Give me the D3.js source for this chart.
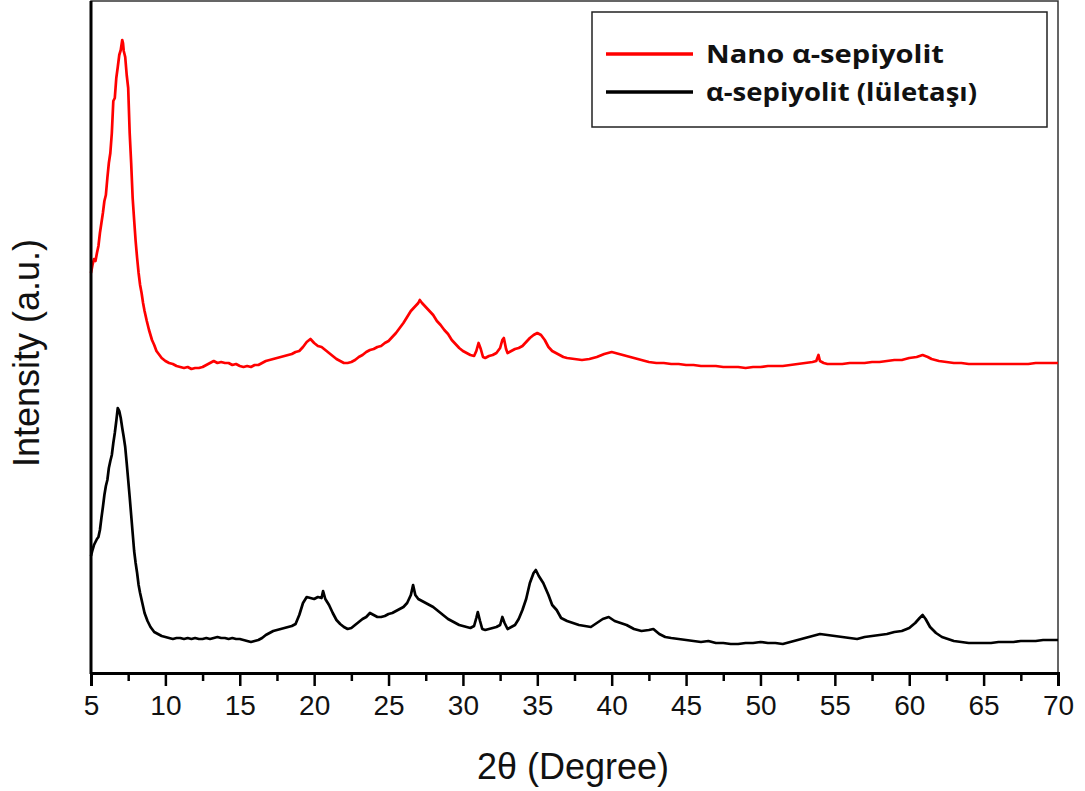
<!DOCTYPE html>
<html>
<head>
<meta charset="utf-8">
<script src="https://cdn.jsdelivr.net/npm/d3@7/dist/d3.min.js"></script>
<style>
  body { margin: 0; background: #fff; }
  svg { display: block; }
</style>
</head>
<body>
<div id="chart"></div>
<script>
// 2-theta positions and intensities (a.u.)
var nanoSep = [
  [5.0, 400], [5.1, 408], [5.2, 414], [5.3, 412], [5.4, 420], [5.5, 427], [5.6, 440], [5.7, 450], [5.8, 460], [5.9, 472],
  [6.0, 478], [6.1, 495], [6.2, 510], [6.3, 520], [6.4, 540], [6.5, 572], [6.6, 575], [6.7, 595], [6.8, 606], [6.9, 618],
  [7.0, 623], [7.1, 633], [7.15, 630], [7.2, 622], [7.3, 616], [7.4, 598], [7.5, 585], [7.6, 540], [7.7, 510], [7.8, 475],
  [7.9, 453], [8.0, 432], [8.1, 415], [8.2, 400], [8.3, 388], [8.4, 380], [8.5, 370], [8.6, 362], [8.75, 352], [8.9, 343],
  [9.1, 333], [9.25, 328], [9.4, 322], [9.6, 318], [9.75, 315], [10.0, 312], [10.25, 310], [10.5, 309], [10.75, 307], [11.0, 306],
  [11.25, 305], [11.5, 306], [11.75, 304], [12.0, 305], [12.25, 305], [12.5, 306], [12.75, 308], [13.0, 310], [13.25, 312], [13.5, 310],
  [13.75, 311], [14.0, 310], [14.25, 310], [14.5, 308], [14.75, 309], [15.0, 307], [15.25, 306], [15.5, 307], [15.75, 306], [16.0, 308],
  [16.25, 308], [16.5, 310], [16.75, 312], [17.0, 313], [17.25, 314], [17.5, 315], [17.75, 316], [18.0, 317], [18.25, 318], [18.5, 319],
  [18.75, 321], [19.0, 322], [19.25, 326], [19.5, 331], [19.75, 334], [20.0, 330], [20.25, 327], [20.5, 326], [20.75, 323], [21.0, 320],
  [21.25, 317], [21.5, 314], [21.75, 312], [22.0, 310], [22.25, 310], [22.5, 311], [22.75, 313], [23.0, 316], [23.25, 318], [23.5, 321],
  [23.75, 323], [24.0, 324], [24.25, 326], [24.5, 327], [24.75, 330], [25.0, 332], [25.25, 336], [25.5, 340], [25.75, 345], [26.0, 350],
  [26.25, 356], [26.5, 362], [26.75, 366], [27.0, 370], [27.1, 373], [27.25, 370], [27.5, 366], [27.75, 362], [28.0, 358], [28.25, 352],
  [28.5, 348], [28.75, 343], [29.0, 339], [29.25, 333], [29.5, 329], [29.75, 325], [30.0, 322], [30.25, 320], [30.5, 318], [30.75, 317],
  [30.9, 322], [31.05, 330], [31.2, 324], [31.35, 316], [31.5, 315], [31.75, 317], [32.0, 318], [32.25, 320], [32.5, 325], [32.65, 333],
  [32.75, 335], [32.9, 324], [33.0, 320], [33.25, 322], [33.5, 324], [33.75, 325], [34.0, 327], [34.25, 331], [34.5, 335], [34.75, 338],
  [35.0, 340], [35.25, 338], [35.5, 333], [35.75, 326], [36.0, 322], [36.25, 320], [36.5, 318], [36.75, 316], [37.0, 315], [37.5, 314],
  [38.0, 313], [38.5, 314], [39.0, 316], [39.5, 319], [40.0, 321], [40.5, 319], [41.0, 317], [41.5, 315], [42.0, 313], [42.5, 311],
  [43.0, 310], [43.5, 310], [44.0, 309], [44.5, 309], [45.0, 308], [45.5, 308], [46.0, 307], [46.5, 307], [47.0, 307], [47.5, 306],
  [48.0, 306], [48.5, 306], [49.0, 305], [49.5, 306], [50.0, 306], [50.5, 307], [51.0, 307], [51.5, 307], [52.0, 308], [52.5, 309],
  [53.0, 310], [53.5, 311], [53.75, 312], [53.9, 318], [54.0, 312], [54.25, 310], [54.5, 309], [55.0, 309], [55.5, 309], [56.0, 310],
  [56.5, 310], [57.0, 310], [57.5, 311], [58.0, 311], [58.5, 312], [59.0, 313], [59.5, 313], [60.0, 315], [60.5, 316], [60.9, 318],
  [61.25, 316], [61.5, 314], [62.0, 312], [62.5, 311], [63.0, 310], [63.5, 310], [64.0, 309], [64.5, 309], [65.0, 309], [65.5, 309],
  [66.0, 309], [66.5, 309], [67.0, 309], [67.5, 309], [68.0, 309], [68.5, 310], [69.0, 310], [69.5, 310], [70.0, 310]
];

var sep = [
  [5.0, 117], [5.1, 123], [5.2, 128], [5.3, 131], [5.4, 134], [5.5, 136], [5.6, 143], [5.7, 155], [5.8, 166], [5.9, 178],
  [6.0, 187], [6.1, 193], [6.2, 205], [6.3, 212], [6.4, 218], [6.5, 230], [6.6, 240], [6.7, 252], [6.8, 265], [6.9, 262],
  [7.0, 255], [7.1, 245], [7.2, 236], [7.3, 226], [7.4, 210], [7.5, 193], [7.6, 176], [7.7, 158], [7.8, 140], [7.9, 122],
  [8.0, 110], [8.1, 100], [8.2, 88], [8.3, 80], [8.45, 70], [8.6, 60], [8.8, 52], [9.0, 46], [9.25, 41], [9.5, 39],
  [9.75, 37], [10.0, 36], [10.25, 35], [10.5, 34], [10.75, 35], [11.0, 35], [11.25, 34], [11.5, 35], [11.75, 34], [12.0, 35],
  [12.25, 34], [12.5, 34], [12.75, 35], [13.0, 34], [13.25, 35], [13.5, 36], [13.75, 35], [14.0, 35], [14.25, 34], [14.5, 35],
  [14.75, 34], [15.0, 34], [15.25, 33], [15.5, 32], [15.75, 31], [16.0, 32], [16.25, 33], [16.5, 35], [16.75, 38], [17.0, 40],
  [17.25, 42], [17.5, 43], [17.75, 44], [18.0, 45], [18.25, 46], [18.5, 47], [18.75, 49], [19.0, 58], [19.25, 70], [19.5, 76],
  [19.75, 75], [20.0, 74], [20.25, 76], [20.5, 75], [20.6, 82], [20.75, 74], [21.0, 68], [21.25, 60], [21.5, 53], [21.75, 49],
  [22.0, 46], [22.25, 44], [22.5, 45], [22.75, 48], [23.0, 51], [23.25, 54], [23.5, 56], [23.75, 60], [24.0, 58], [24.25, 56],
  [24.5, 56], [24.75, 57], [25.0, 59], [25.25, 60], [25.5, 62], [25.75, 64], [26.0, 66], [26.25, 70], [26.5, 78], [26.65, 88],
  [26.8, 78], [27.0, 74], [27.25, 72], [27.5, 70], [27.75, 68], [28.0, 66], [28.25, 63], [28.5, 60], [28.75, 57], [29.0, 54],
  [29.25, 52], [29.5, 50], [29.75, 48], [30.0, 47], [30.25, 46], [30.5, 45], [30.75, 47], [30.9, 55], [31.0, 61], [31.15, 52],
  [31.3, 44], [31.5, 43], [31.75, 44], [32.0, 45], [32.25, 46], [32.5, 48], [32.65, 56], [32.8, 50], [33.0, 44], [33.25, 46],
  [33.5, 48], [33.75, 54], [34.0, 63], [34.25, 74], [34.5, 90], [34.75, 100], [34.9, 103], [35.1, 97], [35.4, 90], [35.75, 78],
  [36.0, 68], [36.3, 63], [36.6, 55], [37.0, 52], [37.4, 50], [37.8, 48], [38.2, 47], [38.6, 46], [39.0, 50], [39.4, 54],
  [39.8, 56], [40.2, 52], [40.6, 50], [41.0, 48], [41.5, 44], [42.0, 42], [42.5, 43], [42.8, 44], [43.2, 39], [43.6, 36],
  [44.0, 35], [44.5, 34], [45.0, 33], [45.5, 32], [46.0, 31], [46.5, 32], [47.0, 30], [47.5, 30], [48.0, 29], [48.5, 29],
  [49.0, 30], [49.5, 30], [50.0, 31], [50.5, 30], [51.0, 30], [51.5, 29], [52.0, 31], [52.5, 33], [53.0, 35], [53.5, 37],
  [54.0, 39], [54.5, 38], [55.0, 37], [55.5, 36], [56.0, 35], [56.5, 34], [57.0, 36], [57.5, 37], [58.0, 38], [58.5, 39],
  [59.0, 41], [59.5, 42], [60.0, 45], [60.4, 50], [60.7, 55], [60.9, 58], [61.1, 54], [61.4, 46], [61.8, 40], [62.2, 36],
  [62.6, 34], [63.0, 32], [63.5, 31], [64.0, 30], [64.5, 30], [65.0, 30], [65.5, 30], [66.0, 31], [66.5, 31], [67.0, 31],
  [67.5, 32], [68.0, 32], [68.5, 32], [69.0, 33], [69.5, 33], [70.0, 33]
];

var xTicks = [5, 10, 15, 20, 25, 30, 35, 40, 45, 50, 55, 60, 65, 70];
var xMinor = [7.5, 12.5, 17.5, 22.5, 27.5, 32.5, 37.5, 42.5, 47.5, 52.5, 57.5, 62.5, 67.5];
var seriesNames = ["Nano α-sepiyolit", "α-sepiyolit (lületaşı)"];
var seriesColors = ["#ff0000", "#000000"];

// ==================================

var W = 1085, H = 791;
var plotLeft = 91, plotRight = 1058, plotTop = 1, plotBottom = 673;

var svg = d3.select("#chart").append("svg")
    .attr("width", W)
    .attr("height", H);

var x = d3.scaleLinear().domain([5, 70]).range([plotLeft, plotRight]);
var y = d3.scaleLinear().domain([0, 672]).range([plotBottom, plotTop]);

var line = d3.line()
    .x(function(d) { return x(d[0]); })
    .y(function(d) { return y(d[1]); });

// frame (top/right)
svg.append("rect")
    .attr("x", plotLeft).attr("y", plotTop)
    .attr("width", plotRight - plotLeft).attr("height", plotBottom - plotTop)
    .attr("fill", "none")
    .attr("stroke", "#333")
    .attr("stroke-width", 1.5);

// curves (noisy scans look thick, so a wider stroke)
svg.append("path")
    .datum(sep)
    .attr("d", line)
    .attr("fill", "none")
    .attr("stroke", seriesColors[1])
    .attr("stroke-width", 2.7)
    .attr("stroke-linejoin", "round");

svg.append("path")
    .datum(nanoSep)
    .attr("d", line)
    .attr("fill", "none")
    .attr("stroke", seriesColors[0])
    .attr("stroke-width", 2.7)
    .attr("stroke-linejoin", "round");

// x axis
var xAxis = svg.append("g")
    .attr("transform", "translate(0," + plotBottom + ")")
    .call(d3.axisBottom(x).tickValues(xTicks).tickSize(13).tickPadding(9).tickFormat(d3.format("d")));
xAxis.select(".domain").attr("stroke", "#000").attr("stroke-width", 3);
xAxis.selectAll(".tick line").attr("stroke-width", 2.5);
xAxis.selectAll("text")
    .attr("font-family", "Liberation Sans, Arial, sans-serif")
    .attr("font-size", 28)
    .attr("fill", "#111");

svg.append("g")
    .attr("transform", "translate(0," + plotBottom + ")")
    .call(d3.axisBottom(x).tickValues(xMinor).tickSize(8).tickFormat(""))
    .call(function(g) {
        g.select(".domain").remove();
        g.selectAll(".tick line").attr("stroke-width", 2.5);
    });

// y axis line
svg.append("line")
    .attr("x1", plotLeft).attr("x2", plotLeft)
    .attr("y1", plotTop).attr("y2", plotBottom + 1)
    .attr("stroke", "#000")
    .attr("stroke-width", 3);

// axis titles
svg.append("text")
    .attr("x", 573)
    .attr("y", 779)
    .attr("text-anchor", "middle")
    .attr("font-family", "Liberation Sans, Arial, sans-serif")
    .attr("font-size", 36)
    .attr("fill", "#111")
    .text("2θ (Degree)");

svg.append("text")
    .attr("transform", "translate(39,353) rotate(-90)")
    .attr("text-anchor", "middle")
    .attr("font-family", "Liberation Sans, Arial, sans-serif")
    .attr("font-size", 36)
    .attr("fill", "#111")
    .text("Intensity (a.u.)");

// legend
var legend = svg.append("g");
legend.append("rect")
    .attr("x", 592).attr("y", 12)
    .attr("width", 455).attr("height", 115)
    .attr("fill", "#fff")
    .attr("stroke", "#222")
    .attr("stroke-width", 1.5);

var legendWidths = [238, 271];
seriesNames.forEach(function(name, i) {
    var ly = 54 + i * 38;
    legend.append("line")
        .attr("x1", 606).attr("x2", 693)
        .attr("y1", ly).attr("y2", ly)
        .attr("stroke", seriesColors[i])
        .attr("stroke-width", 3.5);
    legend.append("text")
        .attr("x", 706).attr("y", ly + 9)
        .attr("font-family", "Open Sans, sans-serif")
        .attr("font-weight", "bold")
        .attr("font-size", 25)
        .attr("textLength", legendWidths[i])
        .attr("lengthAdjust", "spacingAndGlyphs")
        .attr("fill", "#111")
        .text(name);
});
</script>
</body>
</html>
